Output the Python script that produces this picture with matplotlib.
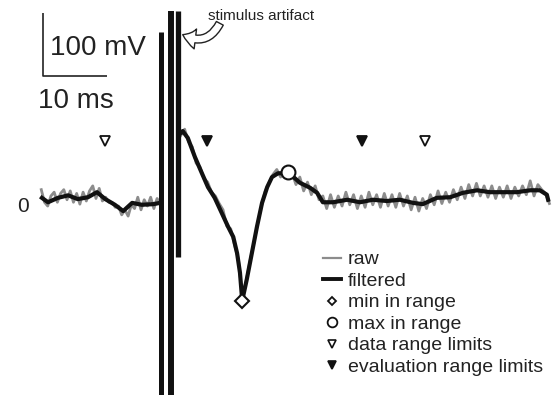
import numpy as np
import matplotlib
matplotlib.use("Agg")
import matplotlib.pyplot as plt
from matplotlib.lines import Line2D

plt.rcParams['font.family'] = ['Liberation Sans', 'DejaVu Sans']

# ---- filtered trace (time in ms, voltage in mV) ----
filt_pre_t = [-19.7, -18.75, -17.2, -15.6, -14.1, -12.5, -11.1, -9.8, -8.3, -7.0, -5.6, -4.1, -2.3, -1.25]
filt_pre_v = [5, -2, 5, 9, 3, 6, 14, 3, -6, -16, -3, -6, -5, -3]

filt_post_t = [2.0, 2.3, 3.1, 4.2, 5.3, 6.25, 7.3, 8.4, 9.4, 10.2, 10.8, 11.25, 11.6, 12.3, 13.1,
               13.9, 14.7, 15.5, 16.25, 17.2, 18.3, 18.75, 20.6, 22.2, 23.3, 24.2, 25.8, 28.0,
               30.0, 32.0, 34.2, 36.25, 38.3, 39.8, 42.0, 44.1, 46.1, 48.3, 50.3, 52.3, 54.5,
               56.6, 58.1, 59.2, 59.4]
filt_post_v = [108, 111, 100, 70, 44, 22, 5, -19, -41, -57, -83, -114, -158, -125, -83,
               -41, -3, 22, 38, 44, 44, 46, 29, 21, 13, -2, -2, 2,
               -2, 2, 0, 2, -3, -5, 5, 6, 13, 17, 14, 14, 14,
               17, 17, 10, 2]

# ---- raw trace ----
raw_pre_t = np.linspace(-19.8, -1.2, 38)
raw_pre_v = [18, -2, -8, 8, 14, -2, 12, 18, 2, 16,
             -2, 12, -5, 14, 0, 16, 24, 4, 20, 0,
             6, -2, -2, -10, -8, -22, -14, -24, -6, -12,
             6, -14, 2, -8, 6, -12, 4, -4]
raw_post_t = np.linspace(2.0, 59.6, 97)
raw_post_v = [104, 114, 94, 86, 60, 54, 36, 30, 14, 8,
              -4, -14, -40, -44, -70, -92, -150, -128, -96, -68,
              -36, -8, 16, 28, 42, 50, 38, 50, 42, 44,
              26, 38, 16, 30, 10, 24, 2, 8, -12, 10,
              -10, 8, -8, 14, -6, 10, -12, 8, -10, 14,
              -6, 10, -10, 12, -8, 10, -10, 12, -8, 8,
              -14, 6, -16, 4, -12, 10, -6, 16, -4, 14,
              -2, 18, 2, 22, 4, 26, 8, 28, 8, 24,
              6, 24, 4, 22, 6, 24, 4, 22, 8, 24,
              10, 32, 8, 26, 18, 12, -4]

# ---- stimulus artifact segments ----
art_t = [-1.1, 0.45, 1.6]
art_top = [268, 302, 302]
art_bottom = [-330, -330, -89]
art_width = [3.6, 4.3, 3.8]

# ---- markers ----
min_t, min_v = 11.6, -158
max_t, max_v = 18.75, 46
data_range_t = [-9.8, 40.2]
eval_range_t = [6.1, 30.3]
range_marker_v = 96

fig = plt.figure(figsize=(5.59, 3.95), dpi=100)
ax = fig.add_axes([0, 0, 1, 1])
ax.set_xlim(-26.25, 61.1)
ax.set_ylim(-307.9, 319)
ax.axis('off')

raw_col = '#8c8c8c'
blk = '#111111'

ax.plot(raw_pre_t, raw_pre_v, color=raw_col, lw=2.0, zorder=2)
ax.plot(raw_post_t, raw_post_v, color=raw_col, lw=2.0, zorder=2)
ax.plot(filt_pre_t, filt_pre_v, color=blk, lw=3.0, zorder=3, solid_joinstyle='round')
ax.plot(filt_post_t, filt_post_v, color=blk, lw=3.0, zorder=3, solid_joinstyle='round')

for t, top, bot, w in zip(art_t, art_top, art_bottom, art_width):
    ax.vlines(t, bot, top, color=blk, lw=w, zorder=4)

ax.plot([min_t], [min_v], marker='D', ms=7, mfc='white', mec=blk, mew=1.5, ls='none', zorder=5)
ax.plot([max_t], [max_v], marker='o', ms=10, mfc='white', mec=blk, mew=1.5, ls='none', zorder=5)
ax.plot(data_range_t, [range_marker_v] * 2, marker='v', ms=7, mfc='white', mec=blk, mew=1.3, ls='none', zorder=5)
ax.plot(eval_range_t, [range_marker_v] * 2, marker='v', ms=7, mfc=blk, mec=blk, mew=1.3, ls='none', zorder=5)

# scale bar
ax.plot([-19.5, -19.5, -9.5], [298.4, 198.4, 198.4], color='#222222', lw=1.2, solid_capstyle='butt')
ax.text(-18.44, 232, '100 mV', fontsize=20, ha='left', va='baseline', color='#222222')
ax.text(-20.3, 148, '10 ms', fontsize=20, ha='left', va='baseline', color='#222222')
ax.text(-23.6, -17.5, '0', fontsize=15, ha='left', va='baseline', color='#222222')

# stimulus artifact annotation
ax.text(6.25, 287, 'stimulus artifact', fontsize=11, ha='left', va='baseline', color='#222222')
ax.annotate('', xy=(2.3, 264), xytext=(8.1, 282),
            arrowprops=dict(arrowstyle='simple,head_length=0.6,head_width=0.9,tail_width=0.35',
                            fc='white', ec='#222222', lw=1.0, mutation_scale=16,
                            connectionstyle='arc3,rad=-0.5', shrinkA=0, shrinkB=0))

handles = [
    Line2D([], [], color=raw_col, lw=1.6),
    Line2D([], [], color=blk, lw=2.8),
    Line2D([], [], marker='D', ms=4.5, mfc='white', mec=blk, mew=1.3, ls='none'),
    Line2D([], [], marker='o', ms=7, mfc='white', mec=blk, mew=1.3, ls='none'),
    Line2D([], [], marker='v', ms=6, mfc='white', mec=blk, mew=1.2, ls='none'),
    Line2D([], [], marker='v', ms=6, mfc=blk, mec=blk, mew=1.2, ls='none'),
]
labels = ['raw', 'filtered', 'min in range', 'max in range', 'data range limits', 'evaluation range limits']
leg = ax.legend(handles, labels, loc='upper left', bbox_to_anchor=(0.578, 0.365),
                frameon=False, fontsize=14, handlelength=0.9, handletextpad=0.36,
                labelspacing=0.2, borderpad=0, borderaxespad=0)
for txt in leg.get_texts():
    txt.set_color('#222222')

fig.savefig('out.png', dpi=100)
